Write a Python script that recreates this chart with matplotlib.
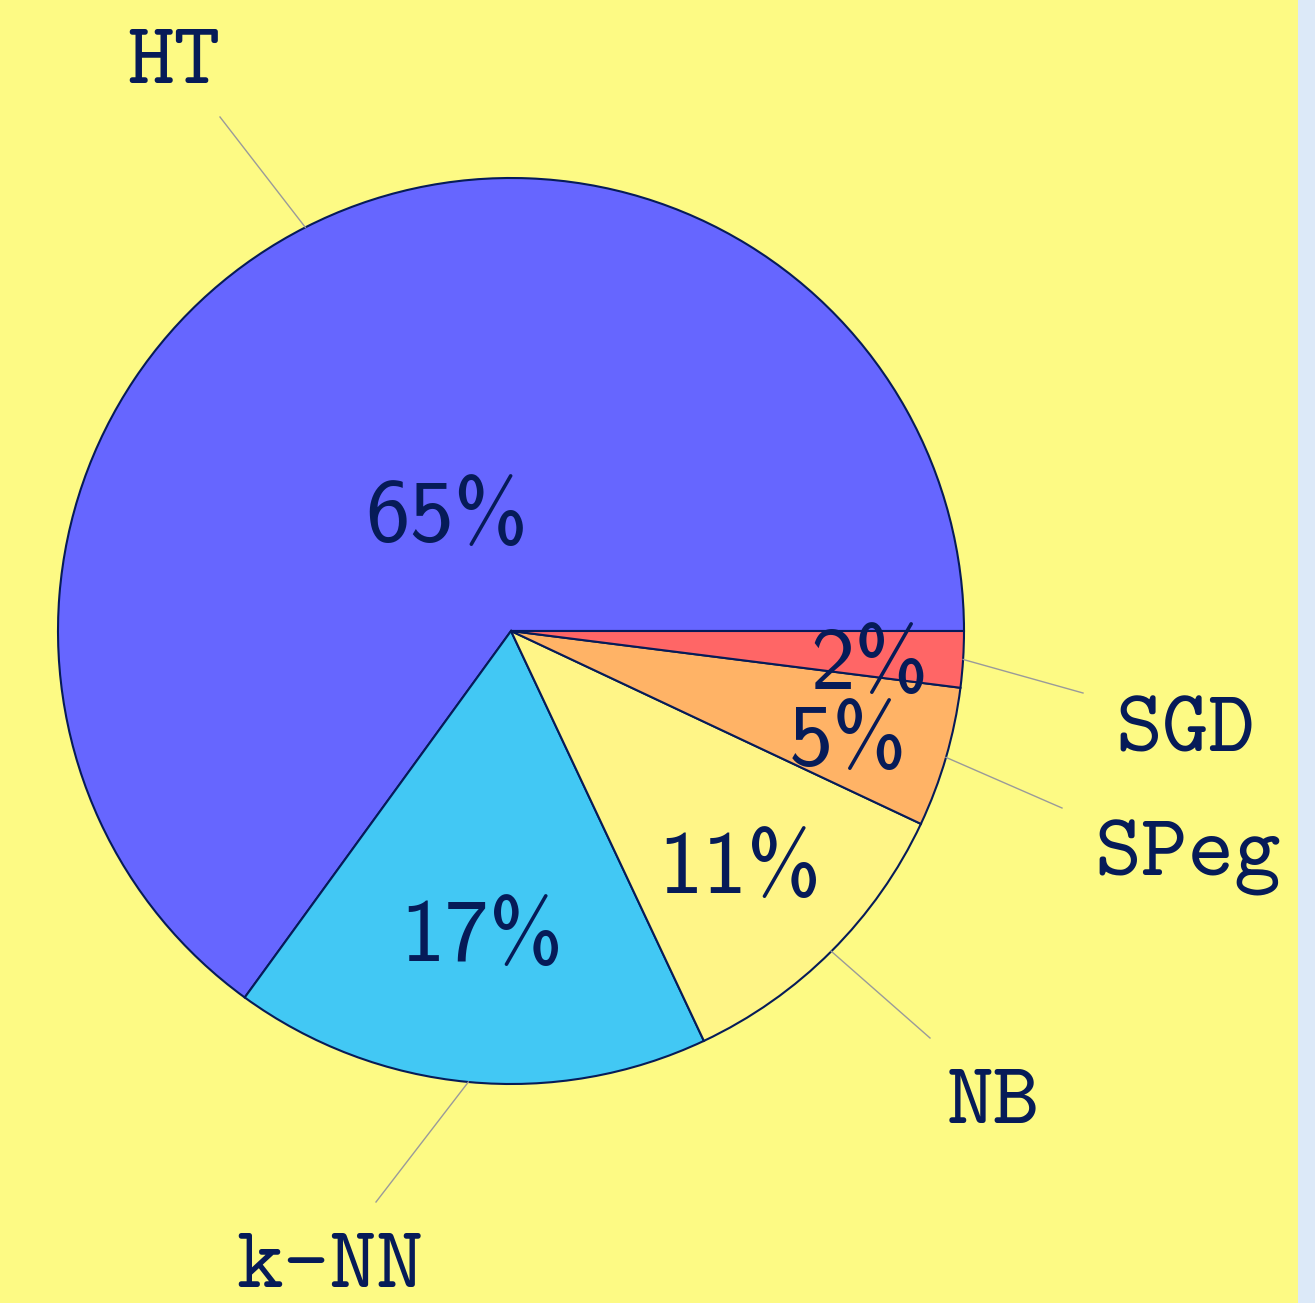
import numpy as np
import matplotlib
matplotlib.use("Agg")
import matplotlib.pyplot as plt

# data
labels = ["HT", "k-NN", "NB", "SPeg", "SGD"]
shares = [65, 17, 11, 5, 2]
colors = ["#6666ff", "#42c8f4", "#fff587", "#ffb366", "#ff6666"]

# layout (image pixel coords, y down)
center = (511, 631)
radius = 453
pct_pos = [(447, 518), (482, 938), (740, 870), (848, 743), (870, 666)]
line_end = [(220, 117), (376, 1202), (930, 1038), (1062, 808), (1083, 693)]
label_pos = [(174, 66), (330, 1270), (993, 1106), (1188, 858), (1185, 734)]

navy = "#061b58"
bg = "#fdfa84"

fig = plt.figure(figsize=(13.15, 13.03), dpi=100)
fig.patch.set_facecolor("#dce9f8")
ax = fig.add_axes([0, 0, 1, 1])
ax.set_facecolor(bg)

# y axis points down, so clockwise here is counter-clockwise on screen
wedges, _ = ax.pie(shares, colors=colors, startangle=0, counterclock=False,
                   center=center, radius=radius,
                   wedgeprops=dict(edgecolor=navy, linewidth=1.5))
ax.set_xlim(0, 1315)
ax.set_ylim(1303, 0)
ax.set_aspect("equal")
ax.axis("off")

# background yellow, with the light blue strip on the right
ax.add_patch(plt.Rectangle((0, 0), 1298, 1303, facecolor=bg, edgecolor="none", zorder=-5))

for w, lab, share, pp, le, lp in zip(wedges, labels, shares, pct_pos, line_end, label_pos):
    mid = np.deg2rad((w.theta1 + w.theta2) / 2)
    edge = (center[0] + radius * np.cos(mid), center[1] + radius * np.sin(mid))
    ax.plot([edge[0], le[0]], [edge[1], le[1]], color="#9a9a9a", lw=1.0, zorder=3)
    ax.text(pp[0], pp[1], f"{share}%", family="cmss10", fontsize=64, color=navy,
            ha="center", va="center", zorder=4)
    ax.text(lp[0], lp[1], lab, family="cmtt10", fontsize=64, color=navy,
            ha="center", va="center", zorder=4)

fig.savefig("out.png", dpi=100, facecolor=fig.get_facecolor())
